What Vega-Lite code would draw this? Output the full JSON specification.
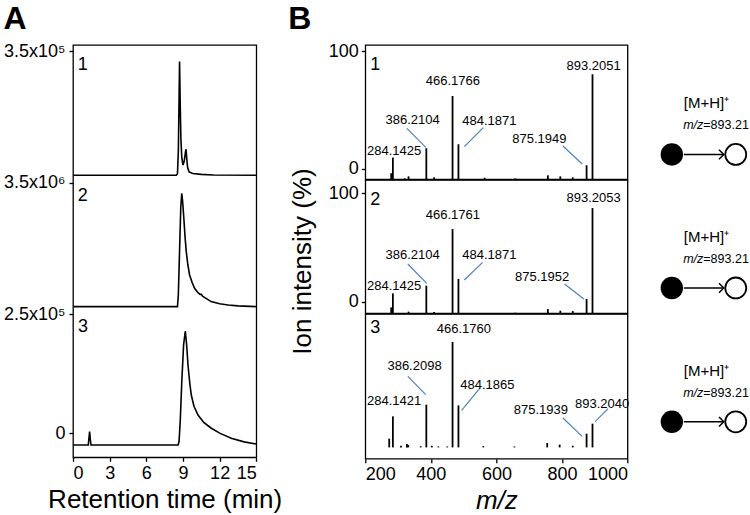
{
  "$schema": "https://vega.github.io/schema/vega-lite/v6.json",
  "background": "white",
  "padding": {"left": 2, "top": 2, "right": 0, "bottom": 0},
  "bounds": "flush",
  "spacing": 108.3,
  "config": {
    "font": "Liberation Sans",
    "view": {"stroke": "black", "strokeWidth": 1.3},
    "axis": {"domain": false, "grid": false, "tickColor": "black", "tickSize": 4, "tickWidth": 1.3, "labelFontSize": 18, "labelColor": "black", "labelPadding": 3, "titleFontSize": 26, "titleFontWeight": "normal", "titleColor": "black", "labelFont": "Liberation Sans", "titleFont": "Liberation Sans"},
    "title": {"font": "Liberation Sans", "fontSize": 32, "fontWeight": "bold", "color": "black", "anchor": "start"}
  },
  "datasets": {
    "traces": [
      {"trace":1,"time":0,"level":2.158},{"trace":1,"time":8.45,"level":2.158},{"trace":1,"time":8.55,"level":2.17},{"trace":1,"time":8.62,"level":2.35},{"trace":1,"time":8.67,"level":2.7},{"trace":1,"time":8.72,"level":3.067},{"trace":1,"time":8.77,"level":2.75},{"trace":1,"time":8.83,"level":2.45},{"trace":1,"time":8.9,"level":2.3},{"trace":1,"time":9.0,"level":2.24},{"trace":1,"time":9.1,"level":2.27},{"trace":1,"time":9.2,"level":2.34},{"trace":1,"time":9.25,"level":2.366},{"trace":1,"time":9.3,"level":2.3},{"trace":1,"time":9.38,"level":2.22},{"trace":1,"time":9.5,"level":2.185},{"trace":1,"time":9.8,"level":2.172},{"trace":1,"time":10.5,"level":2.165},{"trace":1,"time":11.5,"level":2.16},{"trace":1,"time":15,"level":2.158},
      {"trace":2,"time":0,"level":1.107},{"trace":2,"time":8.55,"level":1.107},{"trace":2,"time":8.62,"level":1.2},{"trace":2,"time":8.72,"level":1.55},{"trace":2,"time":8.82,"level":1.9},{"trace":2,"time":8.9,"level":2.014},{"trace":2,"time":8.97,"level":1.95},{"trace":2,"time":9.08,"level":1.8},{"trace":2,"time":9.18,"level":1.65},{"trace":2,"time":9.27,"level":1.547},{"trace":2,"time":9.4,"level":1.44},{"trace":2,"time":9.54,"level":1.36},{"trace":2,"time":9.75,"level":1.3},{"trace":2,"time":9.95,"level":1.254},{"trace":2,"time":10.2,"level":1.222},{"trace":2,"time":10.4,"level":1.205},{"trace":2,"time":10.5,"level":1.205},{"trace":2,"time":10.6,"level":1.19},{"trace":2,"time":11.3,"level":1.147},{"trace":2,"time":12,"level":1.13},{"trace":2,"time":12.7,"level":1.12},{"trace":2,"time":13.5,"level":1.113},{"trace":2,"time":15,"level":1.107},
      {"trace":3,"time":0,"level":0},{"trace":3,"time":1.25,"level":0},{"trace":3,"time":1.31,"level":0.06},{"trace":3,"time":1.36,"level":0.107},{"trace":3,"time":1.41,"level":0.05},{"trace":3,"time":1.47,"level":0},{"trace":3,"time":8.6,"level":0},{"trace":3,"time":8.68,"level":0.03},{"trace":3,"time":8.78,"level":0.2},{"trace":3,"time":8.9,"level":0.5},{"trace":3,"time":9.05,"level":0.8},{"trace":3,"time":9.19,"level":0.912},{"trace":3,"time":9.3,"level":0.8},{"trace":3,"time":9.41,"level":0.64},{"trace":3,"time":9.55,"level":0.5},{"trace":3,"time":9.68,"level":0.4},{"trace":3,"time":9.9,"level":0.31},{"trace":3,"time":10.23,"level":0.24},{"trace":3,"time":10.7,"level":0.18},{"trace":3,"time":11.32,"level":0.134},{"trace":3,"time":12,"level":0.095},{"trace":3,"time":12.95,"level":0.054},{"trace":3,"time":14,"level":0.025},{"trace":3,"time":15,"level":0.008}
    ],
    "traceNumbers": [
      {"label":"1","time":0.79,"level":3.04},{"label":"2","time":0.79,"level":1.99},{"label":"3","time":0.82,"level":0.942}
    ],
    "peaks": [
      {"spectrum":1,"mz":279,"intensity":5.1},{"spectrum":1,"mz":284.14,"intensity":18.4},{"spectrum":1,"mz":320,"intensity":0.8},{"spectrum":1,"mz":332,"intensity":2.5},{"spectrum":1,"mz":386.21,"intensity":26.3},{"spectrum":1,"mz":410,"intensity":1.7},{"spectrum":1,"mz":466.18,"intensity":70.6},{"spectrum":1,"mz":484.19,"intensity":29.7},{"spectrum":1,"mz":564,"intensity":1.3},{"spectrum":1,"mz":658,"intensity":0.8},{"spectrum":1,"mz":757,"intensity":3.4},{"spectrum":1,"mz":795,"intensity":2.5},{"spectrum":1,"mz":833,"intensity":1.7},{"spectrum":1,"mz":875.19,"intensity":11.9},{"spectrum":1,"mz":893.21,"intensity":89.0},
      {"spectrum":2,"mz":279,"intensity":5.0},{"spectrum":2,"mz":284.14,"intensity":16.9},{"spectrum":2,"mz":332,"intensity":1.4},{"spectrum":2,"mz":386.21,"intensity":23.4},{"spectrum":2,"mz":410,"intensity":1.1},{"spectrum":2,"mz":466.18,"intensity":71.4},{"spectrum":2,"mz":484.19,"intensity":29.1},{"spectrum":2,"mz":658,"intensity":0.5},{"spectrum":2,"mz":757,"intensity":3.6},{"spectrum":2,"mz":795,"intensity":2.2},{"spectrum":2,"mz":833,"intensity":1.9},{"spectrum":2,"mz":875.2,"intensity":12.1},{"spectrum":2,"mz":893.21,"intensity":89.2},
      {"spectrum":3,"mz":273,"intensity":7.4},{"spectrum":3,"mz":284.14,"intensity":26.3},{"spectrum":3,"mz":309,"intensity":1.5},{"spectrum":3,"mz":327,"intensity":2.8},{"spectrum":3,"mz":331,"intensity":2.0},{"spectrum":3,"mz":369,"intensity":1.0},{"spectrum":3,"mz":386.21,"intensity":36.2},{"spectrum":3,"mz":403,"intensity":1.3},{"spectrum":3,"mz":423,"intensity":0.8},{"spectrum":3,"mz":450,"intensity":0.8},{"spectrum":3,"mz":466.18,"intensity":89.3},{"spectrum":3,"mz":484.19,"intensity":35.6},{"spectrum":3,"mz":560,"intensity":1.1},{"spectrum":3,"mz":655,"intensity":0.8},{"spectrum":3,"mz":755,"intensity":3.7},{"spectrum":3,"mz":793,"intensity":2.3},{"spectrum":3,"mz":833,"intensity":1.4},{"spectrum":3,"mz":875.19,"intensity":11.6},{"spectrum":3,"mz":893.2,"intensity":20.1}
    ],
    "peakLabels": [
      {"spectrum":1,"label":"466.1766","mz":467.2,"intensity":83.6},{"spectrum":1,"label":"893.2051","mz":896.7,"intensity":95.8},{"spectrum":1,"label":"386.2104","mz":344.4,"intensity":50.3},{"spectrum":1,"label":"484.1871","mz":578.4,"intensity":49.7},{"spectrum":1,"label":"284.1425","mz":288.1,"intensity":24.3},{"spectrum":1,"label":"875.1949","mz":731,"intensity":33.9},
      {"spectrum":2,"label":"466.1761","mz":467.2,"intensity":83.6},{"spectrum":2,"label":"893.2053","mz":896.7,"intensity":97.5},{"spectrum":2,"label":"386.2104","mz":344.4,"intensity":49.4},{"spectrum":2,"label":"484.1871","mz":578.4,"intensity":49.4},{"spectrum":2,"label":"284.1425","mz":288.1,"intensity":22.9},{"spectrum":2,"label":"875.1952","mz":739.5,"intensity":30.5},
      {"spectrum":3,"label":"466.1760","mz":500.6,"intensity":100.6},{"spectrum":3,"label":"386.2098","mz":350.2,"intensity":68.6},{"spectrum":3,"label":"484.1865","mz":572.3,"intensity":53.1},{"spectrum":3,"label":"284.1421","mz":288.1,"intensity":39.0},{"spectrum":3,"label":"875.1939","mz":735.6,"intensity":31.9},{"spectrum":3,"label":"893.2040","mz":922.5,"intensity":37.0}
    ],
    "leaders": [
      {"spectrum":1,"mz":326.7,"intensity":43.2,"mz_end":384.5,"intensity_end":27.1},{"spectrum":1,"mz":559.9,"intensity":43.8,"mz_end":502.1,"intensity_end":27.7},{"spectrum":1,"mz":803,"intensity":28.2,"mz_end":861.7,"intensity_end":13.0},
      {"spectrum":2,"mz":329.8,"intensity":41.8,"mz_end":387.5,"intensity_end":25.4},{"spectrum":2,"mz":557.8,"intensity":43.2,"mz_end":502.1,"intensity_end":28.2},{"spectrum":2,"mz":807.9,"intensity":24.8,"mz_end":866.9,"intensity_end":12.1},
      {"spectrum":3,"mz":329.8,"intensity":60.2,"mz_end":384.5,"intensity_end":44.7},{"spectrum":3,"mz":549.5,"intensity":50.3,"mz_end":493.9,"intensity_end":31.4},{"spectrum":3,"mz":803,"intensity":24.9,"mz_end":861.7,"intensity_end":9.3},{"spectrum":3,"mz":940.7,"intensity":32.8,"mz_end":901.2,"intensity_end":21.8}
    ],
    "spectrumNumbers": [
      {"spectrum":1,"label":"1","mz":230.5,"intensity":96.6},{"spectrum":2,"label":"2","mz":230.5,"intensity":96.0},{"spectrum":3,"label":"3","mz":230.5,"intensity":101.4}
    ],
    "precursor": [{"ion":"[M+H]⁺","mzLabel":"m/z","mzValue":"=893.21"}]
  },
  "hconcat": [
    {
      "width": 183.3,
      "height": 412.3,
      "title": {"text": "A", "offset": 6, "dx": 0},
      "encoding": {
        "x": {"field": "time", "type": "quantitative", "scale": {"domain": [0, 15], "nice": false}, "axis": {"values": [0, 3, 6, 9, 12, 15], "title": "Retention time (min)"}},
        "y": {"field": "level", "type": "quantitative", "scale": {"domain": [-0.0984, 3.2], "nice": false, "zero": false}, "axis": {"values": [0.0936, 1.0456, 2.1, 3.152], "labelExpr": "datum.value < 0.5 ? '0' : datum.value < 1.5 ? '2.5x10⁵' : datum.value < 2.5 ? '3.5x10⁶' : '3.5x10⁵'", "title": null, "labelPadding": 4}}
      },
      "layer": [
        {"data": {"name": "traces"}, "mark": {"type": "line", "color": "black", "strokeWidth": 1.6}, "encoding": {"detail": {"field": "trace", "type": "nominal"}}},
        {"data": {"name": "traceNumbers"}, "mark": {"type": "text", "fontSize": 18, "color": "black", "align": "center", "baseline": "middle"}, "encoding": {"text": {"field": "label"}}}
      ]
    },
    {
      "columns": 2,
      "align": "each",
      "bounds": "flush",
      "spacing": {"row": 0, "column": 14.5},
      "concat": [
        {
          "width": 262.2,
          "height": 134.3,
          "title": {"text": "B", "offset": 6, "dx": -40},
          "encoding": {
            "x": {"field": "mz", "type": "quantitative", "scale": {"domain": [200, 1000], "nice": false}, "axis": null},
            "y": {"field": "intensity", "type": "quantitative", "scale": {"domain": [0, 113.8], "nice": false}, "axis": {"values": [8.73, 108.7], "labelExpr": "datum.value < 50 ? '0' : '100'", "title": null}}
          },
          "layer": [
            {"data": {"name": "peaks"}, "transform": [{"filter": "datum.spectrum == 1"}], "mark": {"type": "rule", "color": "black", "strokeWidth": 1.8}, "encoding": {"y2": {"datum": 0}}},
            {"data": {"name": "leaders"}, "transform": [{"filter": "datum.spectrum == 1"}], "mark": {"type": "rule", "color": "#4f81bd", "strokeWidth": 1.2}, "encoding": {"x2": {"field": "mz_end"}, "y2": {"field": "intensity_end"}}},
            {"data": {"name": "peakLabels"}, "transform": [{"filter": "datum.spectrum == 1"}], "mark": {"type": "text", "fontSize": 13, "color": "black", "align": "center", "baseline": "middle"}, "encoding": {"text": {"field": "label"}}},
            {"data": {"name": "spectrumNumbers"}, "transform": [{"filter": "datum.spectrum == 1"}], "mark": {"type": "text", "fontSize": 18, "color": "black", "align": "center", "baseline": "middle"}, "encoding": {"text": {"field": "label"}}}
          ]
        },
        {
          "width": 110,
          "height": 134.3,
          "view": {"stroke": null},
          "data": {"name": "precursor"},
          "encoding": {"y": {"datum": 0.815, "type": "quantitative", "scale": {"domain": [0, 1], "reverse": true, "nice": false, "zero": false}, "axis": null}},
          "layer": [
            {"mark": {"type": "point", "shape": "circle", "filled": true, "color": "black", "opacity": 1, "size": 500}, "encoding": {"x": {"datum": 0.264, "type": "quantitative", "scale": {"domain": [0, 1], "nice": false}, "axis": null}}},
            {"mark": {"type": "point", "shape": "circle", "filled": false, "color": "black", "strokeWidth": 1.8, "opacity": 1, "size": 440}, "encoding": {"x": {"datum": 0.845, "type": "quantitative", "axis": null}}},
            {"mark": {"type": "rule", "color": "black", "strokeWidth": 1.5}, "encoding": {"x": {"datum": 0.373, "type": "quantitative", "axis": null}, "x2": {"datum": 0.736}}},
            {"mark": {"type": "point", "shape": "M-1,-1L0,0L-1,1", "filled": false, "color": "black", "strokeWidth": 1.5, "opacity": 1, "size": 90}, "encoding": {"x": {"datum": 0.736, "type": "quantitative", "axis": null}}},
            {"mark": {"type": "text", "fontSize": 15, "color": "black", "align": "center", "baseline": "middle", "dy": -51}, "encoding": {"x": {"datum": 0.579, "type": "quantitative", "axis": null}, "text": {"field": "ion"}}},
            {"mark": {"type": "text", "fontSize": 12.5, "fontStyle": "italic", "color": "black", "align": "right", "baseline": "middle", "dy": -29}, "encoding": {"x": {"datum": 0.55, "type": "quantitative", "axis": null}, "text": {"field": "mzLabel"}}},
            {"mark": {"type": "text", "fontSize": 12.5, "color": "black", "align": "left", "baseline": "middle", "dy": -29}, "encoding": {"x": {"datum": 0.55, "type": "quantitative", "axis": null}, "text": {"field": "mzValue"}}}
          ]
        },
        {
          "width": 262.2,
          "height": 133.3,
          "encoding": {
            "x": {"field": "mz", "type": "quantitative", "scale": {"domain": [200, 1000], "nice": false}, "axis": null},
            "y": {"field": "intensity", "type": "quantitative", "scale": {"domain": [0, 112.97], "nice": false}, "axis": {"values": [10, 101.9], "labelExpr": "datum.value < 50 ? '0' : '100'", "title": "Ion intensity (%)", "titleX": -50, "titleY": 81}}
          },
          "layer": [
            {"data": {"name": "peaks"}, "transform": [{"filter": "datum.spectrum == 2"}], "mark": {"type": "rule", "color": "black", "strokeWidth": 1.8}, "encoding": {"y2": {"datum": 0}}},
            {"data": {"name": "leaders"}, "transform": [{"filter": "datum.spectrum == 2"}], "mark": {"type": "rule", "color": "#4f81bd", "strokeWidth": 1.2}, "encoding": {"x2": {"field": "mz_end"}, "y2": {"field": "intensity_end"}}},
            {"data": {"name": "peakLabels"}, "transform": [{"filter": "datum.spectrum == 2"}], "mark": {"type": "text", "fontSize": 13, "color": "black", "align": "center", "baseline": "middle"}, "encoding": {"text": {"field": "label"}}},
            {"data": {"name": "spectrumNumbers"}, "transform": [{"filter": "datum.spectrum == 2"}], "mark": {"type": "text", "fontSize": 18, "color": "black", "align": "center", "baseline": "middle"}, "encoding": {"text": {"field": "label"}}}
          ]
        },
        {
          "width": 110,
          "height": 133.3,
          "view": {"stroke": null},
          "data": {"name": "precursor"},
          "encoding": {"y": {"datum": 0.81, "type": "quantitative", "scale": {"domain": [0, 1], "reverse": true, "nice": false, "zero": false}, "axis": null}},
          "layer": [
            {"mark": {"type": "point", "shape": "circle", "filled": true, "color": "black", "opacity": 1, "size": 500}, "encoding": {"x": {"datum": 0.264, "type": "quantitative", "scale": {"domain": [0, 1], "nice": false}, "axis": null}}},
            {"mark": {"type": "point", "shape": "circle", "filled": false, "color": "black", "strokeWidth": 1.8, "opacity": 1, "size": 440}, "encoding": {"x": {"datum": 0.845, "type": "quantitative", "axis": null}}},
            {"mark": {"type": "rule", "color": "black", "strokeWidth": 1.5}, "encoding": {"x": {"datum": 0.373, "type": "quantitative", "axis": null}, "x2": {"datum": 0.736}}},
            {"mark": {"type": "point", "shape": "M-1,-1L0,0L-1,1", "filled": false, "color": "black", "strokeWidth": 1.5, "opacity": 1, "size": 90}, "encoding": {"x": {"datum": 0.736, "type": "quantitative", "axis": null}}},
            {"mark": {"type": "text", "fontSize": 15, "color": "black", "align": "center", "baseline": "middle", "dy": -51}, "encoding": {"x": {"datum": 0.579, "type": "quantitative", "axis": null}, "text": {"field": "ion"}}},
            {"mark": {"type": "text", "fontSize": 12.5, "fontStyle": "italic", "color": "black", "align": "right", "baseline": "middle", "dy": -29}, "encoding": {"x": {"datum": 0.55, "type": "quantitative", "axis": null}, "text": {"field": "mzLabel"}}},
            {"mark": {"type": "text", "fontSize": 12.5, "color": "black", "align": "left", "baseline": "middle", "dy": -29}, "encoding": {"x": {"datum": 0.55, "type": "quantitative", "axis": null}, "text": {"field": "mzValue"}}}
          ]
        },
        {
          "width": 262.2,
          "height": 144.7,
          "encoding": {
            "x": {"field": "mz", "type": "quantitative", "scale": {"domain": [200, 1000], "nice": false}, "axis": {"values": [200, 400, 600, 800, 1000], "format": "d", "title": "m/z", "titleFontStyle": "italic"}},
            "y": {"field": "intensity", "type": "quantitative", "scale": {"domain": [-9.58, 113.05], "nice": false, "zero": false}, "axis": null}
          },
          "layer": [
            {"data": {"name": "peaks"}, "transform": [{"filter": "datum.spectrum == 3"}], "mark": {"type": "rule", "color": "black", "strokeWidth": 1.8}, "encoding": {"y2": {"datum": 0}}},
            {"data": {"name": "precursor"}, "mark": {"type": "rule", "color": "#8a8a8a", "strokeWidth": 1.2},
              "encoding": {"x": {"datum": 200, "type": "quantitative", "axis": {"values": [200, 400, 600, 800, 1000], "format": "d", "title": "m/z", "titleFontStyle": "italic"}}, "x2": {"datum": 1000}, "y": {"datum": 0, "type": "quantitative", "axis": null}}},
            {"data": {"name": "leaders"}, "transform": [{"filter": "datum.spectrum == 3"}], "mark": {"type": "rule", "color": "#4f81bd", "strokeWidth": 1.2}, "encoding": {"x2": {"field": "mz_end"}, "y2": {"field": "intensity_end"}}},
            {"data": {"name": "peakLabels"}, "transform": [{"filter": "datum.spectrum == 3"}], "mark": {"type": "text", "fontSize": 13, "color": "black", "align": "center", "baseline": "middle"}, "encoding": {"text": {"field": "label"}}},
            {"data": {"name": "spectrumNumbers"}, "transform": [{"filter": "datum.spectrum == 3"}], "mark": {"type": "text", "fontSize": 18, "color": "black", "align": "center", "baseline": "middle"}, "encoding": {"text": {"field": "label"}}}
          ]
        },
        {
          "width": 110,
          "height": 144.7,
          "view": {"stroke": null},
          "data": {"name": "precursor"},
          "encoding": {"y": {"datum": 0.745, "type": "quantitative", "scale": {"domain": [0, 1], "reverse": true, "nice": false, "zero": false}, "axis": null}},
          "layer": [
            {"mark": {"type": "point", "shape": "circle", "filled": true, "color": "black", "opacity": 1, "size": 500}, "encoding": {"x": {"datum": 0.264, "type": "quantitative", "scale": {"domain": [0, 1], "nice": false}, "axis": null}}},
            {"mark": {"type": "point", "shape": "circle", "filled": false, "color": "black", "strokeWidth": 1.8, "opacity": 1, "size": 440}, "encoding": {"x": {"datum": 0.845, "type": "quantitative", "axis": null}}},
            {"mark": {"type": "rule", "color": "black", "strokeWidth": 1.5}, "encoding": {"x": {"datum": 0.373, "type": "quantitative", "axis": null}, "x2": {"datum": 0.736}}},
            {"mark": {"type": "point", "shape": "M-1,-1L0,0L-1,1", "filled": false, "color": "black", "strokeWidth": 1.5, "opacity": 1, "size": 90}, "encoding": {"x": {"datum": 0.736, "type": "quantitative", "axis": null}}},
            {"mark": {"type": "text", "fontSize": 15, "color": "black", "align": "center", "baseline": "middle", "dy": -51}, "encoding": {"x": {"datum": 0.579, "type": "quantitative", "axis": null}, "text": {"field": "ion"}}},
            {"mark": {"type": "text", "fontSize": 12.5, "fontStyle": "italic", "color": "black", "align": "right", "baseline": "middle", "dy": -29}, "encoding": {"x": {"datum": 0.55, "type": "quantitative", "axis": null}, "text": {"field": "mzLabel"}}},
            {"mark": {"type": "text", "fontSize": 12.5, "color": "black", "align": "left", "baseline": "middle", "dy": -29}, "encoding": {"x": {"datum": 0.55, "type": "quantitative", "axis": null}, "text": {"field": "mzValue"}}}
          ]
        }
      ]
    }
  ]
}
